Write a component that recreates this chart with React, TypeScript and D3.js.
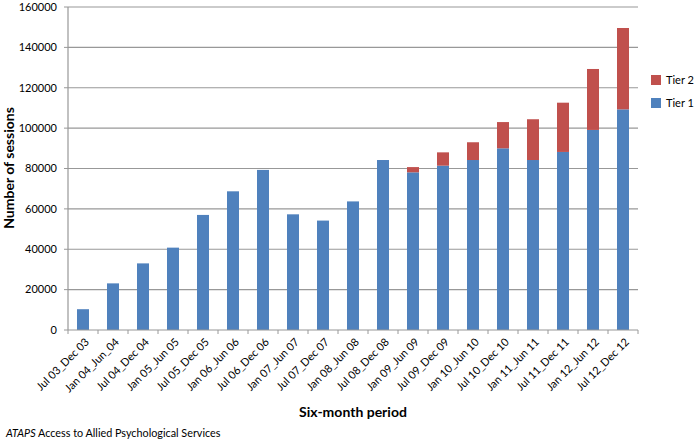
import React from "react";
import * as d3 from "d3";

const categories = [
  "Jul 03_Dec 03", "Jan 04_Jun_04", "Jul 04_Dec 04", "Jan 05_Jun 05", "Jul 05_Dec 05",
  "Jan 06_Jun 06", "Jul 06_Dec 06", "Jan 07_Jun 07", "Jul 07_Dec 07", "Jan 08_Jun 08",
  "Jul 08_Dec 08", "Jan 09_Jun 09", "Jul 09_Dec 09", "Jan 10_Jun 10", "Jul 10_Dec 10",
  "Jan 11_Jun 11", "Jul 11_Dec 11", "Jan 12_Jun 12", "Jul 12_Dec 12",
];
const tier1 = [10300, 23100, 33000, 40800, 57000, 68700, 79300, 57300, 54200, 63700,
  84200, 78100, 81400, 84200, 90000, 84200, 88200, 99100, 109300];
const tier2 = [0, 0, 0, 0, 0, 0, 0, 0, 0, 0,
  0, 2600, 6600, 8800, 13000, 20200, 24400, 30200, 40300];
const yTicks = [0, 20000, 40000, 60000, 80000, 100000, 120000, 140000, 160000];
const seriesNames = ["Tier 1", "Tier 2"];
const colors = ["#4f81bd", "#c0504d"];

export default function App() {
  const W = 694, H = 442;
  const left = 68, right = 638, top = 7, bottom = 330;
  const x = d3.scaleBand().domain(categories).range([left, right]).paddingInner(0.6).paddingOuter(0.3);
  const xb = d3.scaleBand().domain(categories).range([left, right]);
  const y = d3.scaleLinear().domain([0, 160000]).range([bottom, top]);
  const font = "Lato, 'Open Sans', sans-serif";
  const rows = categories.map((c, i) => ({ c, t1: tier1[i], t2: tier2[i] }));
  const stack = d3.stack<any>().keys(["t1", "t2"])(rows);
  return (
    <svg width={W} height={H} style={{ position: "absolute", left: 0, top: 0, background: "#fff" }} fontFamily={font}>
      {yTicks.map((t) => (
        <g key={t}>
          {t > 0 && <line x1={left} x2={right} y1={y(t)} y2={y(t)} stroke="#989898" strokeWidth={1.2} />}
          <line x1={left - 4} x2={left} y1={y(t)} y2={y(t)} stroke="#989898" strokeWidth={1} />
          <text x={left - 11} y={y(t)} dy="0.35em" textAnchor="end" fontSize={11} fill="#000">{t}</text>
        </g>
      ))}
      <line x1={left} x2={left} y1={top} y2={bottom} stroke="#989898" strokeWidth={1.2} />
      {stack.map((s, si) => (
        <g key={si} fill={colors[si]}>
          {s.map((d, i) => d[1] - d[0] > 0 ? (
            <rect key={i} x={x(categories[i])} width={x.bandwidth()} y={y(d[1])} height={y(d[0]) - y(d[1])} />
          ) : null)}
        </g>
      ))}
      <line x1={left} x2={right} y1={bottom} y2={bottom} stroke="#989898" strokeWidth={1.2} />
      {categories.map((c, i) => (
        <line key={"tk" + i} x1={xb(c)!} x2={xb(c)!} y1={bottom} y2={bottom + 4} stroke="#989898" />
      ))}
      <line x1={right} x2={right} y1={bottom} y2={bottom + 4} stroke="#989898" />
      {categories.map((c) => {
        const cx = xb(c)! + xb.bandwidth() / 2 + 4;
        const cy = bottom + 10;
        return (
          <text key={"l" + c} x={cx} y={cy} transform={`rotate(-45 ${cx} ${cy})`} textAnchor="end" dy="0.35em" fontSize={11} fill="#000">{c}</text>
        );
      })}
      <text x={353} y={417} textAnchor="middle" fontSize={14} fontWeight="bold">Six-month period</text>
      <text transform={`translate(14 ${168}) rotate(-90)`} textAnchor="middle" fontSize={14} fontWeight="bold">Number of sessions</text>
      {[1, 0].map((si, k) => (
        <g key={si}>
          <rect x={651} y={75 + k * 23} width={10} height={10} fill={colors[si]} />
          <text x={666} y={80 + k * 23} dy="0.35em" fontSize={11}>{seriesNames[si]}</text>
        </g>
      ))}
      <text x={6} y={437} fontSize={10.8}><tspan fontStyle="italic">ATAPS</tspan> Access to Allied Psychological Services</text>
    </svg>
  );
}
